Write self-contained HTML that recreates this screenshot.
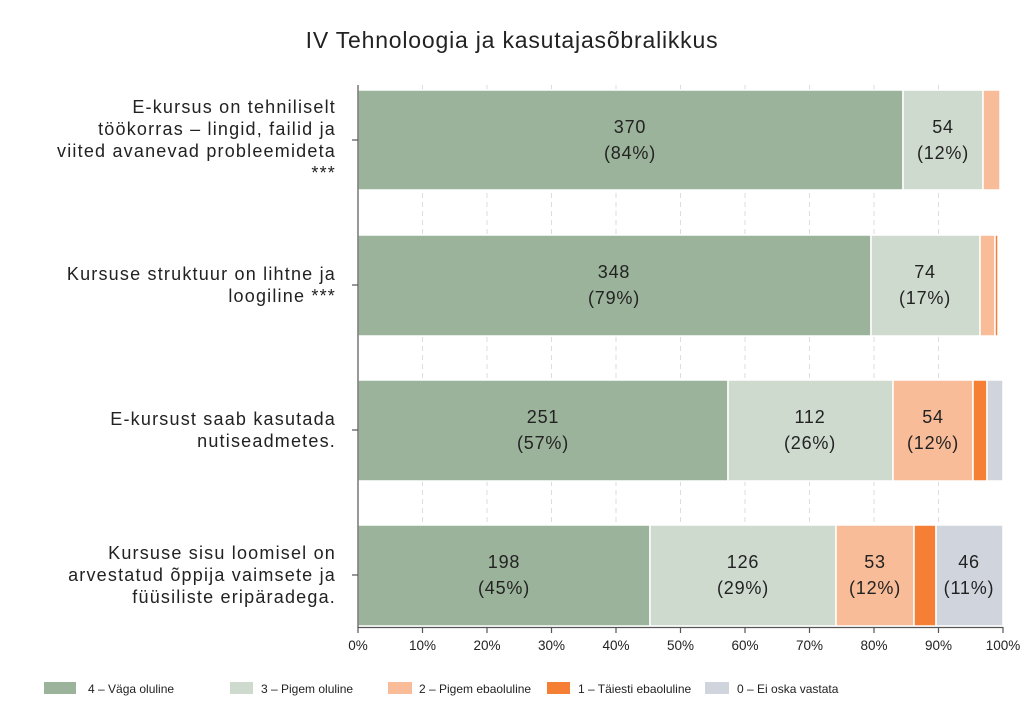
<!DOCTYPE html>
<html><head><meta charset="utf-8"><style>body{margin:0;background:#fff}svg{display:block}text{font-family:"Liberation Sans",sans-serif;fill:#222}</style></head>
<body>
<svg width="1024" height="724" viewBox="0 0 1024 724">
<text x="512" y="48" font-size="23" letter-spacing="0.8" text-anchor="middle">IV Tehnoloogia ja kasutajasõbralikkus</text>
<g stroke="#ddd" stroke-dasharray="5,4" stroke-width="1">
<line x1="422.5" y1="85" x2="422.5" y2="627"/><line x1="487" y1="85" x2="487" y2="627"/><line x1="551.5" y1="85" x2="551.5" y2="627"/><line x1="616" y1="85" x2="616" y2="627"/><line x1="680.5" y1="85" x2="680.5" y2="627"/><line x1="745" y1="85" x2="745" y2="627"/><line x1="809.5" y1="85" x2="809.5" y2="627"/><line x1="874" y1="85" x2="874" y2="627"/><line x1="938.5" y1="85" x2="938.5" y2="627"/>
</g>
<g stroke="#fff" stroke-width="1.5">
<rect x="358" y="90" width="545" height="100" fill="#9bb39b"/><rect x="903" y="90" width="80" height="100" fill="#cfdacf"/><rect x="983" y="90" width="17" height="100" fill="#f8bc98"/>
<rect x="358" y="235" width="513" height="101" fill="#9bb39b"/><rect x="871" y="235" width="109" height="101" fill="#cfdacf"/><rect x="980" y="235" width="15" height="101" fill="#f8bc98"/><rect x="995" y="235" width="3" height="101" fill="#f47f35"/>
<rect x="358" y="380" width="370" height="101" fill="#9bb39b"/><rect x="728" y="380" width="165" height="101" fill="#cfdacf"/><rect x="893" y="380" width="80" height="101" fill="#f8bc98"/><rect x="973" y="380" width="14" height="101" fill="#f47f35"/><rect x="987" y="380" width="16" height="101" fill="#d0d4dd"/>
<rect x="358" y="525" width="292" height="101" fill="#9bb39b"/><rect x="650" y="525" width="186" height="101" fill="#cfdacf"/><rect x="836" y="525" width="78" height="101" fill="#f8bc98"/><rect x="914" y="525" width="22" height="101" fill="#f47f35"/><rect x="936" y="525" width="67" height="101" fill="#d0d4dd"/>
</g>
<g stroke="#555" stroke-width="1.2">
<line x1="358" y1="85" x2="358" y2="628"/><line x1="358" y1="627.5" x2="1003" y2="627.5"/>
<line x1="352" y1="140" x2="358" y2="140"/><line x1="352" y1="285" x2="358" y2="285"/><line x1="352" y1="430" x2="358" y2="430"/><line x1="352" y1="575" x2="358" y2="575"/>
<line x1="358" y1="627" x2="358" y2="633"/><line x1="422.5" y1="627" x2="422.5" y2="633"/><line x1="487" y1="627" x2="487" y2="633"/><line x1="551.5" y1="627" x2="551.5" y2="633"/><line x1="616" y1="627" x2="616" y2="633"/><line x1="680.5" y1="627" x2="680.5" y2="633"/><line x1="745" y1="627" x2="745" y2="633"/><line x1="809.5" y1="627" x2="809.5" y2="633"/><line x1="874" y1="627" x2="874" y2="633"/><line x1="938.5" y1="627" x2="938.5" y2="633"/><line x1="1003" y1="627" x2="1003" y2="633"/>
</g>
<g font-size="13.5" text-anchor="middle">
<text x="358" y="650">0%</text><text x="422.5" y="650">10%</text><text x="487" y="650">20%</text><text x="551.5" y="650">30%</text><text x="616" y="650">40%</text><text x="680.5" y="650">50%</text><text x="745" y="650">60%</text><text x="809.5" y="650">70%</text><text x="874" y="650">80%</text><text x="938.5" y="650">90%</text><text x="1003" y="650">100%</text>
</g>
<g font-size="18" letter-spacing="0.8" text-anchor="middle">
<text x="630" y="133">370</text><text x="630" y="159">(84%)</text><text x="943" y="133">54</text><text x="943" y="159">(12%)</text>
<text x="614" y="278">348</text><text x="614" y="304">(79%)</text><text x="925" y="278">74</text><text x="925" y="304">(17%)</text>
<text x="543" y="423">251</text><text x="543" y="449">(57%)</text><text x="810" y="423">112</text><text x="810" y="449">(26%)</text><text x="933" y="423">54</text><text x="933" y="449">(12%)</text>
<text x="504" y="568">198</text><text x="504" y="594">(45%)</text><text x="743" y="568">126</text><text x="743" y="594">(29%)</text><text x="875" y="568">53</text><text x="875" y="594">(12%)</text><text x="969" y="568">46</text><text x="969" y="594">(11%)</text>
</g>
<g font-size="18" letter-spacing="1.2" text-anchor="end">
<text x="336" y="113">E-kursus on tehniliselt</text><text x="336" y="135">töökorras  – lingid, failid ja</text><text x="336" y="157">viited avanevad probleemideta</text><text x="336" y="179">***</text>
<text x="336" y="280">Kursuse struktuur on lihtne ja</text><text x="336" y="302">loogiline ***</text>
<text x="336" y="425">E-kursust saab kasutada</text><text x="336" y="447">nutiseadmetes.</text>
<text x="336" y="559">Kursuse sisu loomisel on</text><text x="336" y="581">arvestatud õppija vaimsete ja</text><text x="336" y="603">füüsiliste eripäradega.</text>
</g>
<g font-size="12">
<rect x="44" y="682" width="32" height="12" fill="#9bb39b"/><text x="88" y="693">4 – Väga oluline</text>
<rect x="230" y="682" width="23" height="12" fill="#cfdacf"/><text x="261" y="693">3 – Pigem oluline</text>
<rect x="388" y="682" width="24" height="12" fill="#f8bc98"/><text x="419" y="693">2 – Pigem ebaoluline</text>
<rect x="547" y="682" width="23" height="12" fill="#f47f35"/><text x="578" y="693">1 – Täiesti ebaoluline</text>
<rect x="705" y="682" width="24" height="12" fill="#d0d4dd"/><text x="737" y="693">0 – Ei oska vastata</text>
</g>
</svg>
</body></html>
